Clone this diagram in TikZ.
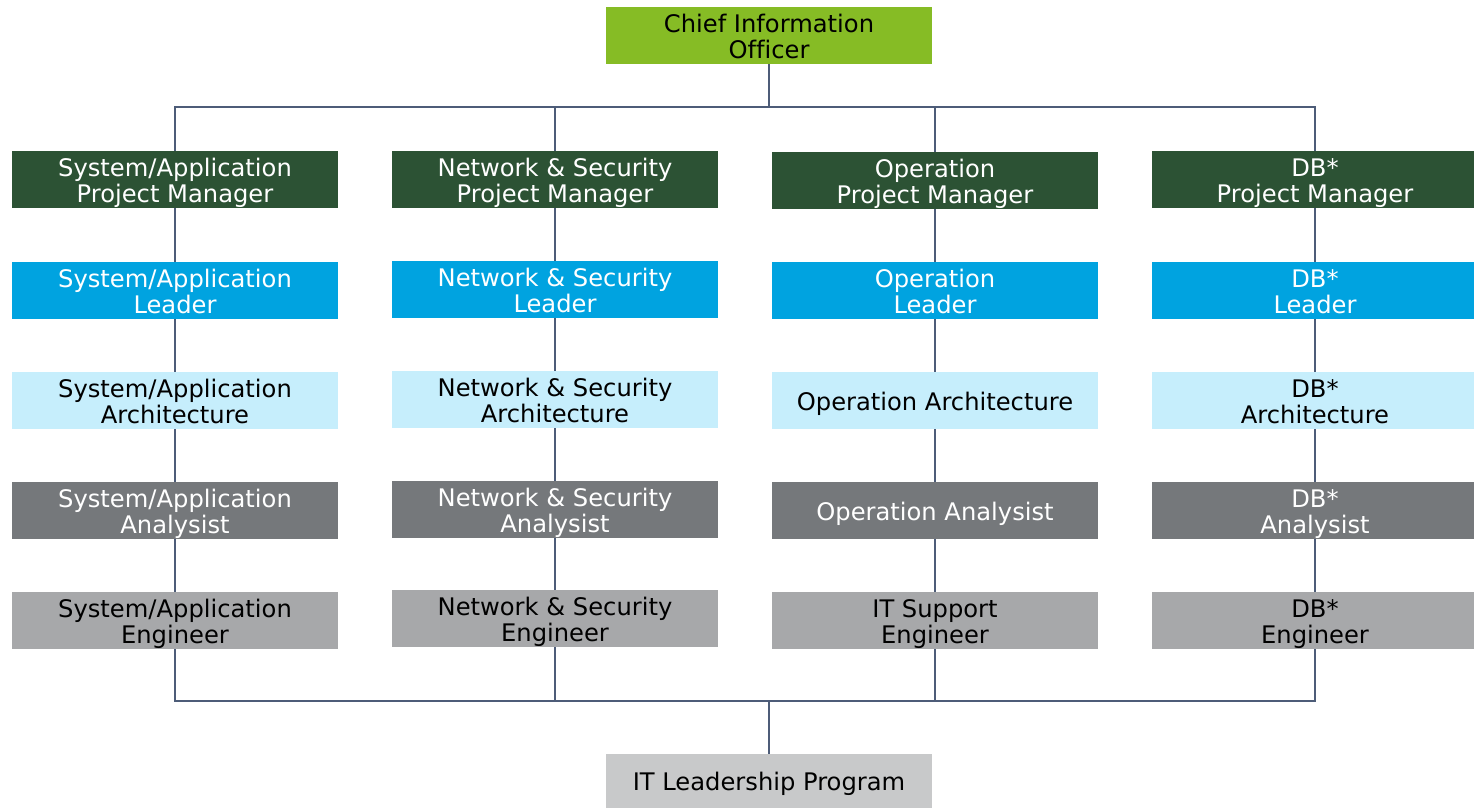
\documentclass[tikz,border=0pt]{standalone}
\usepackage{fontspec}
\setmainfont[Ligatures=NoCommon]{DejaVu Sans}
\definecolor{cgreen}{HTML}{86BC25}
\definecolor{dgreen}{HTML}{2C5234}
\definecolor{cblue}{HTML}{00A3E0}
\definecolor{lblue}{HTML}{C6EEFC}
\definecolor{dgrey}{HTML}{75787B}
\definecolor{lgrey}{HTML}{A7A8AA}
\definecolor{pgrey}{HTML}{C8C9CA}
\definecolor{linec}{HTML}{4D5C78}
\newcommand\bt[1]{\raisebox{-4.5pt}[\height][\depth]{\begin{tabular}{@{}c@{}}#1\end{tabular}}}
\tikzset{
  box/.style={rectangle, inner sep=0pt, minimum width=326pt, minimum height=57pt,
    font=\fontsize{24.2}{26.5}\selectfont},
  pmbox/.style={box, fill=dgreen, text=white},
  ldbox/.style={box, fill=cblue, text=white},
  arbox/.style={box, fill=lblue, text=black},
  anbox/.style={box, fill=dgrey, text=white},
  enbox/.style={box, fill=lgrey, text=black},
  link/.style={draw=linec, line width=1.8pt},
}
\begin{document}
\begin{tikzpicture}[x=1pt,y=-1pt]
\useasboundingbox (0,0) rectangle (1474,809);
\node[box, fill=cgreen, text=black] (cio) at (769,35.5) {\bt{Chief Information\\Officer}};
\node[box, fill=pgrey, text=black, minimum height=54pt] (itlp) at (769,781) {\bt{IT Leadership Program}};
% column 1
\node[pmbox] (pm1) at (175,179.5) {\bt{System/Application\\Project Manager}};
\node[ldbox] (ld1) at (175,290.5) {\bt{System/Application\\Leader}};
\node[arbox] (ar1) at (175,400.5) {\bt{System/Application\\Architecture}};
\node[anbox] (an1) at (175,510.5) {\bt{System/Application\\Analysist}};
\node[enbox] (en1) at (175,620.5) {\bt{System/Application\\Engineer}};
% column 2
\node[pmbox] (pm2) at (555,179.5) {\bt{Network \& Security\\Project Manager}};
\node[ldbox] (ld2) at (555,289.5) {\bt{Network \& Security\\Leader}};
\node[arbox] (ar2) at (555,399.5) {\bt{Network \& Security\\Architecture}};
\node[anbox] (an2) at (555,509.5) {\bt{Network \& Security\\Analysist}};
\node[enbox] (en2) at (555,618.5) {\bt{Network \& Security\\Engineer}};
% column 3
\node[pmbox] (pm3) at (935,180.5) {\bt{Operation\\Project Manager}};
\node[ldbox] (ld3) at (935,290.5) {\bt{Operation\\Leader}};
\node[arbox] (ar3) at (935,400.5) {\bt{Operation Architecture}};
\node[anbox] (an3) at (935,510.5) {\bt{Operation Analysist}};
\node[enbox] (en3) at (935,620.5) {\bt{IT Support\\Engineer}};
% column 4
\node[pmbox] (pm4) at (1315,179.5) {\bt{DB*\\Project Manager}};
\node[ldbox] (ld4) at (1315,290.5) {\bt{DB*\\Leader}};
\node[arbox] (ar4) at (1315,400.5) {\bt{DB*\\Architecture}};
\node[anbox] (an4) at (1315,510.5) {\bt{DB*\\Analysist}};
\node[enbox] (en4) at (1315,620.5) {\bt{DB*\\Engineer}};
% buses
\coordinate (tb) at (769,107);
\coordinate (bb) at (769,701);
\draw[link] (cio.south) -- (tb);
\draw[link] (pm1.north) -- (pm1.north |- tb) -- (pm4.north |- tb) -- (pm4.north);
\draw[link] (pm2.north) -- (pm2.north |- tb);
\draw[link] (pm3.north) -- (pm3.north |- tb);
\draw[link] (en1.south) -- (en1.south |- bb) -- (en4.south |- bb) -- (en4.south);
\draw[link] (en2.south) -- (en2.south |- bb);
\draw[link] (en3.south) -- (en3.south |- bb);
\draw[link] (bb) -- (itlp.north);
\foreach \c in {1,2,3,4}{
  \draw[link, line width=1.4pt] (pm\c.south) -- (ld\c.north);
  \draw[link, line width=1.4pt] (ld\c.south) -- (ar\c.north);
  \draw[link, line width=1.4pt] (ar\c.south) -- (an\c.north);
  \draw[link, line width=1.4pt] (an\c.south) -- (en\c.north);
}
\end{tikzpicture}
\end{document}
